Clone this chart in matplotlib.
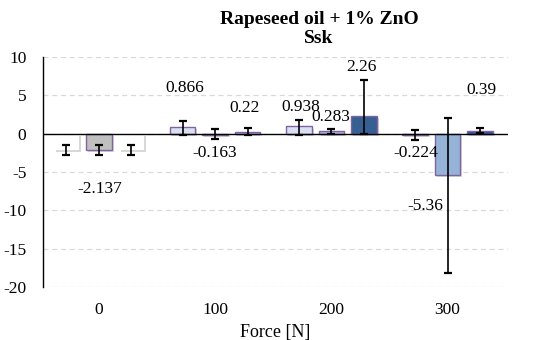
import numpy as np
import matplotlib
matplotlib.use("Agg")
import matplotlib.pyplot as plt
import matplotlib.patheffects as pe

plt.rcParams['font.family'] = ['Liberation Serif', 'DejaVu Serif']
plt.rcParams['axes.unicode_minus'] = False

# Load groups and the three measurement series per group
forces = ["0", "100", "200", "300"]
series_a = [-2.137, 0.866, 0.938, -0.224]
series_b = [-2.137, -0.163, 0.283, -5.36]
series_c = [-2.137, 0.22, 2.26, 0.39]

# Error bar extents (lower, upper)
err_a_lo = [0.65, 1.05, 1.15, 0.66]
err_a_hi = [0.65, 0.85, 0.85, 0.66]
err_b_lo = [0.65, 0.55, 0.30, 12.8]
err_b_hi = [0.65, 0.80, 0.30, 7.36]
err_c_lo = [0.65, 0.35, 2.36, 0.30]
err_c_hi = [0.65, 0.55, 4.70, 0.40]

# Value labels: text and position in data units
label_text = ["-2.137", "0.866", "-0.163", "0.22", "0.938", "0.283", "2.26",
              "-0.224", "-5.36", "0.39"]
label_x = [0.01, 0.74, 1.00, 1.25, 1.74, 2.00, 2.26, 2.73, 2.81, 3.29]
label_y = [-7.2, 6.0, -2.5, 3.3, 3.5, 2.2, 8.7, -2.5, -9.4, 5.7]

lavender = "#dae0f2"
purple = "#8064a2"
face_a = ["#ffffff", lavender, lavender, lavender]
face_b = ["#bfbfbf", lavender, "#b8b0d6", "#95b3d7"]
face_c = ["#ffffff", "#b8b0d6", "#376092", "#2f5597"]
edge_a = ["none", purple, purple, purple]
edge_b = [purple, purple, purple, purple]
edge_c = ["none", purple, purple, purple]

fig = plt.figure(figsize=(5.42, 3.40), dpi=100)
ax = fig.add_axes([43 / 542, 1 - 287 / 340, 465 / 542, 230 / 340])

x = np.arange(len(forces))
offset = 0.28
width = 0.22
shadow = [pe.SimplePatchShadow(offset=(1.5, -1.5), shadow_rgbFace="#7f7f7f", alpha=0.3),
          pe.Normal()]

for vals, lo, hi, faces, edges, dx in [
        (series_a, err_a_lo, err_a_hi, face_a, edge_a, -offset),
        (series_b, err_b_lo, err_b_hi, face_b, edge_b, 0.0),
        (series_c, err_c_lo, err_c_hi, face_c, edge_c, offset)]:
    bars = ax.bar(x + dx, vals, width=width, color=faces, edgecolor=edges,
                  linewidth=1.0, zorder=3)
    for b in bars:
        b.set_path_effects(shadow)
    ax.errorbar(x + dx, vals, yerr=[lo, hi], fmt="none", ecolor="black",
                elinewidth=1.2, capsize=2.8, capthick=1.6, zorder=5)

for t, lx, ly in zip(label_text, label_x, label_y):
    ax.text(lx, ly, t, ha="center", va="center", fontsize=12.5, zorder=6)

ax.axhline(0, color="black", linewidth=1.0, zorder=4)
ax.set_xlim(-0.48, 3.52)
ax.set_ylim(-20, 10)
ax.set_yticks([-20, -15, -10, -5, 0, 5, 10])
ax.set_xticks(x)
ax.set_xticklabels(forces)
ax.tick_params(axis="both", length=0, labelsize=12.5)
ax.tick_params(axis="x", pad=11)
ax.tick_params(axis="y", pad=12)
ax.yaxis.grid(True, linestyle=(0, (4, 3)), color="#d9d9d9", linewidth=0.9, zorder=0)
ax.set_axisbelow(True)
for s in ["top", "right", "bottom"]:
    ax.spines[s].set_visible(False)
ax.spines["left"].set_linewidth(1.0)
ax.set_xlabel("Force [N]", fontsize=13, labelpad=4)

fig.text(319 / 542, 1 - 29 / 340, "Rapeseed oil + 1% ZnO\nSsk", ha="center",
         va="center", fontsize=14, fontweight="bold", linespacing=1.2)

fig.savefig("out.png", dpi=100)
